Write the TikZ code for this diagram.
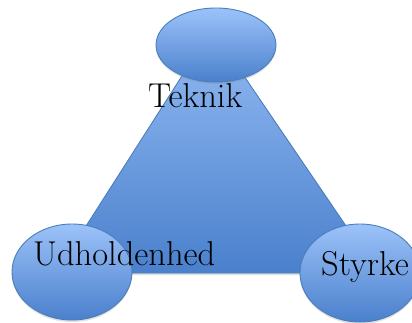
\documentclass[tikz,border=0pt]{standalone}
\usetikzlibrary{shapes.geometric,shadows}
\definecolor{lightblue}{HTML}{9CC2F9}
\definecolor{darkblue}{HTML}{4A80CC}
\definecolor{edgeblue}{HTML}{4A7EBB}
\tikzset{
  blob/.style={ellipse, draw=edgeblue, line width=0.9pt, top color=lightblue, bottom color=darkblue, inner sep=0pt,
    drop shadow={shadow xshift=0pt, shadow yshift=-2pt, opacity=0.25}},
  lbl/.style={anchor=base west, inner sep=0pt, text=black, font=\fontsize{34.5}{40}\selectfont}
}
\begin{document}
\begin{tikzpicture}[x=1pt,y=-1pt]
\useasboundingbox (0,0) rectangle (412,322);
\coordinate (apex) at (212,29);
\coordinate (bl) at (56,273);
\coordinate (br) at (378,273);
\path[draw=edgeblue, line width=0.9pt, top color=lightblue!90!darkblue, bottom color=darkblue,
  drop shadow={shadow xshift=0pt, shadow yshift=-2pt, opacity=0.25}] (apex) -- (br) -- (bl) -- cycle;
\node[blob, minimum width=120pt, minimum height=74pt] (teknik) at (216,45) {};
\node[blob, minimum width=120pt, minimum height=96pt] (udh) at (72,272) {};
\node[blob, minimum width=120pt, minimum height=98pt] (styrke) at (360,273) {};
\node[lbl] (tTeknik) at (148,107) {Teknik};
\node[lbl] (tUdh) at (33,265) {Udholdenhed};
\node[lbl] (tStyrke) at (321,275) {Styrke};
\end{tikzpicture}
\end{document}
